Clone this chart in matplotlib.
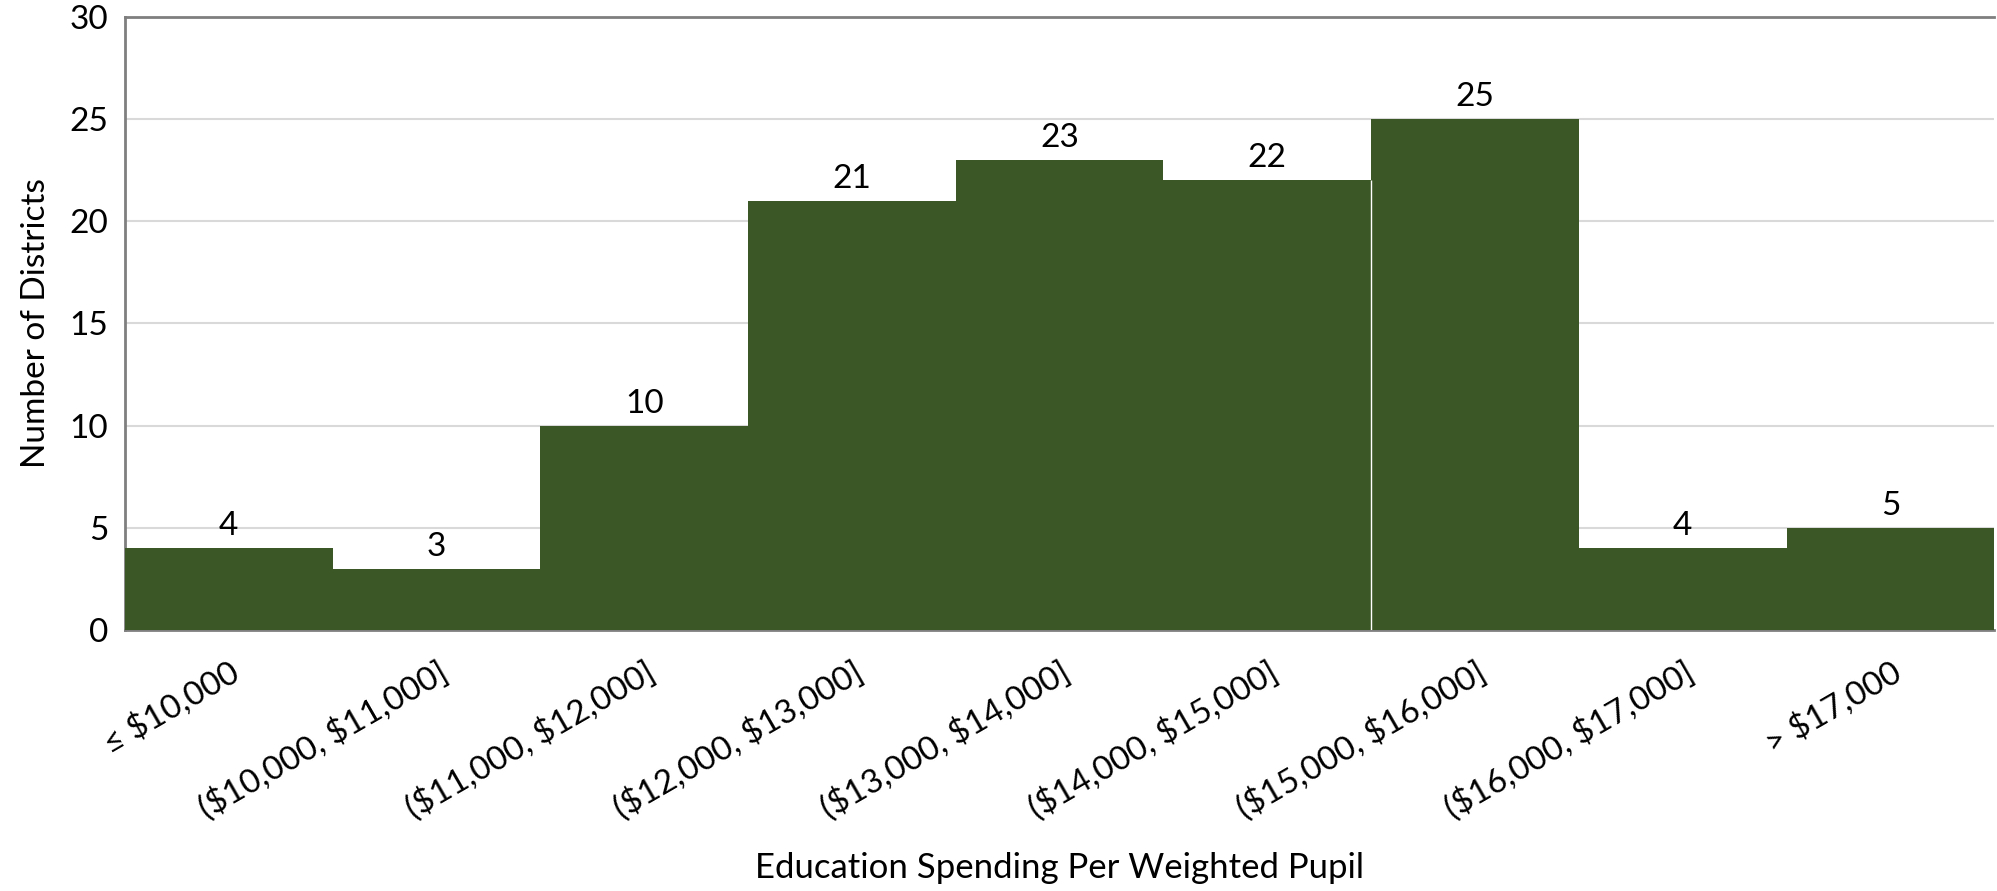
import numpy as np
import matplotlib
matplotlib.use('Agg')
import matplotlib.pyplot as plt

plt.rcParams['font.family'] = ['Lato', 'DejaVu Sans']
plt.rcParams['text.parse_math'] = False

categories = ['≤ $10,000', '($10,000, $11,000]', '($11,000, $12,000]',
              '($12,000, $13,000]', '($13,000, $14,000]', '($14,000, $15,000]',
              '($15,000, $16,000]', '($16,000, $17,000]', '> $17,000']
counts = [4, 3, 10, 21, 23, 22, 25, 4, 5]

bar_color = '#3b5726'
grid_color = '#d9d9d9'
spine_color = '#7f7f7f'

fig = plt.figure(figsize=(19.97, 8.91), dpi=100)
ax = fig.add_axes([0.0626, 0.293, 0.936, 0.688])

index = np.arange(len(categories))
bars = ax.bar(index, counts, width=1.0, color=bar_color, zorder=3)

# thin white seam between the 14-15k and 15-16k bars, as in the original
ax.vlines(index[6] - 0.5, 0, min(counts[5], counts[6]), color='white',
          linewidth=1, zorder=3.5)

for b, v in zip(bars, counts):
    ax.annotate(str(v), (b.get_x() + b.get_width() / 2, v),
                xytext=(0, 5), textcoords='offset points',
                ha='center', va='bottom', fontsize=24, zorder=4)

ax.set_xlim(-0.5, len(categories) - 0.5)
ax.set_ylim(0, 30)
ax.set_yticks(np.arange(0, 31, 5))
ax.yaxis.grid(True, color=grid_color, linewidth=1.5, zorder=0)
ax.set_axisbelow(True)

ax.set_xticks(index)
ax.set_xticklabels(categories, rotation=30, ha='right', va='top',
                   rotation_mode='anchor', fontsize=24)
ax.tick_params(axis='x', length=0, pad=19)
ax.tick_params(axis='y', length=0, pad=12, labelsize=24)

for s in ['left', 'top', 'bottom']:
    ax.spines[s].set_color(spine_color)
    ax.spines[s].set_linewidth(2)
ax.spines['right'].set_visible(False)

ax.set_xlabel('Education Spending Per Weighted Pupil', fontsize=25, labelpad=19)
ax.set_ylabel('Number of Districts', fontsize=24, labelpad=13)

fig.savefig('out.png', dpi=100)
